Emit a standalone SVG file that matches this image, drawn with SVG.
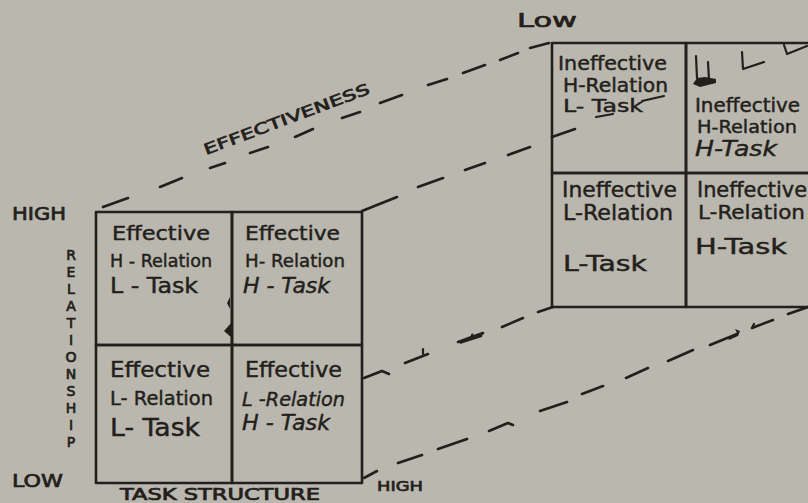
<svg xmlns="http://www.w3.org/2000/svg" width="808" height="503" viewBox="0 0 808 503">
<style>
.bg{fill:#bab7ae}
.cell{fill:none;stroke:#231f1c;stroke-width:2.6;stroke-linejoin:round}
.t{font-family:"DejaVu Sans","Liberation Sans",sans-serif;fill:#231f1c;stroke:#231f1c;stroke-width:0.45}
.lab{font-family:"DejaVu Sans","Liberation Sans",sans-serif;fill:#231f1c;stroke:#231f1c;stroke-width:0.7}
.dash{fill:none;stroke:#231f1c;stroke-width:2.6;stroke-linecap:round;stroke-linejoin:round}
.mark{fill:none;stroke:#231f1c;stroke-width:2.2;stroke-linecap:round;stroke-linejoin:round}
.blob{fill:#231f1c}
</style>
<rect class="bg" x="0" y="0" width="808" height="503"/>

<g id="connectors">
  <!-- top dashed line: left grid top-left to right grid top-left -->
  <path class="dash" d="M103 207 L128 198 M160 187 L182 178 M210 168 L225 163 M250 153 L268 147 M295 137 L313 129 M342 118 L360 112 M380 103 L402 95 M428 85 L447 79 M463 73 L485 65 M500 60 L518 53 M530 48 L549 43"/>
  <!-- second dashed line: left grid top-right to right grid -->
  <path class="dash" d="M362 211 L397 197 M418 187 L443 178 M465 170 L485 163 M508 155 L530 147 M552 137 L575 129"/>
  <!-- third dashed line: left grid right edge to right grid bottom-left -->
  <path class="dash" d="M364 378 L382 371 L389 374 M405 363 L428 354 M458 342 L483 333 M502 327 L523 318 M538 312 L553 307"/>
  <!-- fourth dashed line: left grid bottom-right to right grid bottom-right -->
  <path class="dash" d="M364 478 L377 471 M398 463 L422 455 M438 449 L467 439 M489 431 L508 423 L513 425 M540 411 L567 402 M582 394 L603 386 M626 378 L648 368 M668 361 L693 350 M710 345 L737 334 M752 328 L773 320 M788 314 L808 307"/>
  <path class="blob" d="M459 341 L470 337 L472 333 L475 336 L483 333 L482 337 L460 344 Z"/>
  <path class="blob" d="M728 338 L737 333 L735 329 L740 331 L738 336 L729 340 Z"/>
  <path class="mark" d="M423 354 L423 349 M752 328 L754 324"/>
</g>

<g id="left-grid">
  <g id="cell-effective-hrel-ltask">
    <rect class="cell" x="96" y="212" width="136" height="133"/>
    <text class="t" x="112" y="240" font-size="20" textLength="98" lengthAdjust="spacingAndGlyphs">Effective</text>
    <text class="t" x="110" y="267" font-size="18" textLength="102" lengthAdjust="spacingAndGlyphs">H - Relation</text>
    <text class="t" x="110" y="293" font-size="21" textLength="88" lengthAdjust="spacingAndGlyphs">L - Task</text>
  </g>
  <g id="cell-effective-hrel-htask">
    <rect class="cell" x="232" y="212" width="130" height="133"/>
    <text class="t" x="245" y="240" font-size="20" textLength="95" lengthAdjust="spacingAndGlyphs">Effective</text>
    <text class="t" x="245" y="267" font-size="18" textLength="100" lengthAdjust="spacingAndGlyphs">H- Relation</text>
    <text class="t" x="243" y="293" font-size="21" font-style="italic" textLength="87" lengthAdjust="spacingAndGlyphs">H - Task</text>
  </g>
  <g id="cell-effective-lrel-ltask">
    <rect class="cell" x="96" y="345" width="136" height="138"/>
    <text class="t" x="110" y="377" font-size="22" textLength="100" lengthAdjust="spacingAndGlyphs">Effective</text>
    <text class="t" x="110" y="405" font-size="20" textLength="103" lengthAdjust="spacingAndGlyphs">L- Relation</text>
    <text class="t" x="110" y="436" font-size="24" textLength="90" lengthAdjust="spacingAndGlyphs">L- Task</text>
  </g>
  <g id="cell-effective-lrel-htask">
    <rect class="cell" x="232" y="345" width="130" height="138"/>
    <text class="t" x="245" y="377" font-size="22" textLength="97" lengthAdjust="spacingAndGlyphs">Effective</text>
    <text class="t" x="242" y="406" font-size="20" font-style="italic" textLength="103" lengthAdjust="spacingAndGlyphs">L -Relation</text>
    <text class="t" x="242" y="430" font-size="22" font-style="italic" textLength="88" lengthAdjust="spacingAndGlyphs">H - Task</text>
  </g>
  <path class="blob" d="M230 297 L227 303 L230 309 Z M232 322 L224 331 L232 338 Z"/>
</g>

<g id="right-grid">
  <g id="cell-ineffective-hrel-ltask">
    <rect class="cell" x="552" y="43" width="134" height="130"/>
    <text class="t" x="558" y="70" font-size="20" textLength="109" lengthAdjust="spacingAndGlyphs">Ineffective</text>
    <text class="t" x="563" y="92" font-size="19" textLength="105" lengthAdjust="spacingAndGlyphs">H-Relation</text>
    <text class="t" x="563" y="112" font-size="18" textLength="80" lengthAdjust="spacingAndGlyphs">L- Task</text>
    <path class="mark" d="M596 117 L613 114 M642 101 L664 96"/>
  </g>
  <g id="cell-ineffective-hrel-htask">
    <rect class="cell" x="686" y="43" width="130" height="130"/>
    <text class="t" x="695" y="112" font-size="19" textLength="105" lengthAdjust="spacingAndGlyphs">Ineffective</text>
    <text class="t" x="697" y="133" font-size="18" textLength="100" lengthAdjust="spacingAndGlyphs">H-Relation</text>
    <text class="t" x="695" y="156" font-size="21" font-style="italic" textLength="82" lengthAdjust="spacingAndGlyphs">H-Task</text>
    <path class="mark" d="M696 56 L697 78 M708 62 L709 80 M742 52 L743 69 L764 62 M784 45 L787 54 L807 46"/>
    <path class="blob" d="M693 84 L697 78 L705 77 L716 79 L716 83 L700 87 Z"/>
  </g>
  <g id="cell-ineffective-lrel-ltask">
    <rect class="cell" x="552" y="173" width="134" height="134"/>
    <text class="t" x="562" y="197" font-size="21" textLength="115" lengthAdjust="spacingAndGlyphs">Ineffective</text>
    <text class="t" x="563" y="220" font-size="21" textLength="110" lengthAdjust="spacingAndGlyphs">L-Relation</text>
    <text class="t" x="563" y="271" font-size="21" textLength="84" lengthAdjust="spacingAndGlyphs">L-Task</text>
  </g>
  <g id="cell-ineffective-lrel-htask">
    <rect class="cell" x="686" y="173" width="130" height="134"/>
    <text class="t" x="697" y="197" font-size="21" textLength="110" lengthAdjust="spacingAndGlyphs">Ineffective</text>
    <text class="t" x="698" y="219" font-size="20" textLength="107" lengthAdjust="spacingAndGlyphs">L-Relation</text>
    <text class="t" x="695" y="254" font-size="22" textLength="92" lengthAdjust="spacingAndGlyphs">H-Task</text>
  </g>
</g>

<g id="labels">
  <text class="lab" x="517" y="27" font-size="20" textLength="60" lengthAdjust="spacingAndGlyphs">Low</text>
  <text class="lab" x="12" y="220" font-size="18" textLength="54" lengthAdjust="spacingAndGlyphs">HIGH</text>
  <text class="lab" x="12" y="487" font-size="17" textLength="51" lengthAdjust="spacingAndGlyphs">LOW</text>
  <text class="lab" x="120" y="500" font-size="15" textLength="200" lengthAdjust="spacingAndGlyphs">TASK STRUCTURE</text>
  <text class="lab" x="377" y="491" font-size="14" textLength="46" lengthAdjust="spacingAndGlyphs">HIGH</text>
  <text class="lab" font-size="15" transform="translate(206 155) rotate(-20.6)" textLength="176" lengthAdjust="spacingAndGlyphs">EFFECTIVENESS</text>
  <text class="lab" x="71" y="260" font-size="14" text-anchor="middle"><tspan x="71">R</tspan><tspan x="71" dy="17">E</tspan><tspan x="71" dy="17">L</tspan><tspan x="71" dy="17">A</tspan><tspan x="71" dy="17">T</tspan><tspan x="71" dy="17">I</tspan><tspan x="71" dy="17">O</tspan><tspan x="71" dy="17">N</tspan><tspan x="71" dy="17">S</tspan><tspan x="71" dy="17">H</tspan><tspan x="71" dy="17">I</tspan><tspan x="71" dy="17">P</tspan></text>
</g>
</svg>
